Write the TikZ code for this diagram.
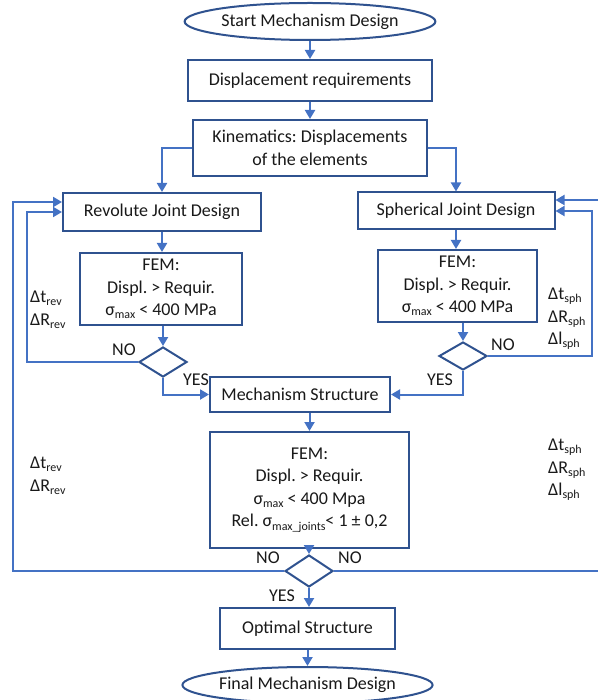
\documentclass[tikz,border=0pt]{standalone}
\usepackage{fontspec}
\setmainfont{Carlito}
\usetikzlibrary{arrows.meta,shapes.geometric}
\definecolor{boxc}{RGB}{47,82,143}
\definecolor{arrc}{RGB}{68,114,196}
\definecolor{txt}{RGB}{25,25,25}
\newcommand{\lo}[1]{\raisebox{-0.35ex}{\fontsize{12}{12}\selectfont #1}}
\frenchspacing
\begin{document}
\begin{tikzpicture}[x=1pt,y=-1pt,
 every node/.style={font=\fontsize{18}{22.5}\selectfont,text=txt},
 box/.style={draw=boxc,line width=2pt,fill=white,rectangle,align=center,inner sep=0pt},
 term/.style={draw=boxc,line width=2pt,fill=white,ellipse,inner sep=0pt},
 dec/.style={draw=boxc,line width=2pt,fill=white,diamond,inner sep=0pt},
 arr/.style={draw=arrc,line width=2pt,-{Triangle[length=9pt,width=10pt]}},
 lab/.style={inner sep=0pt,align=left}]
\useasboundingbox (0,0) rectangle (597,700);
% nodes
\node[term,minimum width=246pt,minimum height=37pt] (start) at (310,21.5) {Start Mechanism Design};
\node[box,minimum width=244pt,minimum height=41pt] (disp) at (310,80.5) {Displacement requirements};
\node[box,minimum width=234pt,minimum height=56pt] (kin) at (310,148) {Kinematics: Displacements\\of the elements};
\node[box,minimum width=198pt,minimum height=38pt] (rev) at (162,212) {Revolute Joint Design};
\node[box,minimum width=197pt,minimum height=37pt] (sph) at (456,211) {Spherical Joint Design};
\node[box,minimum width=162pt,minimum height=72pt] (femR) at (161,289) {FEM:\\Displ. > Requir.\\σ\lo{max} < 400 MPa};
\node[box,minimum width=159pt,minimum height=72pt] (femS) at (457.5,286) {FEM:\\Displ. > Requir.\\σ\lo{max} < 400 MPa};
\node[dec,minimum width=48pt,minimum height=30pt] (dR) at (163,362) {};
\node[dec,minimum width=48pt,minimum height=28pt] (dS) at (463,356) {};
\node[box,minimum width=180pt,minimum height=35pt] (mech) at (300,394.5) {Mechanism Structure};
\node[box,minimum width=199pt,minimum height=116pt] (fem2) at (309.5,490) {FEM:\\Displ. > Requir.\\σ\lo{max} < 400 Mpa\\Rel. σ\lo{max\_joints}< 1 ± 0,2};
\node[dec,minimum width=48pt,minimum height=32pt] (d2) at (309,571) {};
\node[box,minimum width=175pt,minimum height=41pt] (opt) at (307.5,628.5) {Optimal Structure};
\node[term,minimum width=241pt,minimum height=36pt] (final) at (307.5,685) {Final Mechanism Design};
% coordinates for loops
\coordinate (lR) at (27,362);
\coordinate (lO) at (13,571);
\coordinate (rS) at (592,356);
\coordinate (rO) at (602,571);
% connectors
\draw[arr] (start) -- (disp);
\draw[arr] (disp) -- (kin);
\draw[arr] (kin.west) -| (rev.north);
\draw[arr] (kin.east) -| (sph.north);
\draw[arr] (rev.south) -- (rev.south |- femR.north);
\draw[arr] (sph.south) -- (sph.south |- femS.north);
\draw[arr] (dR.north |- femR.south) -- (dR.north);
\draw[arr] (dS.north |- femS.south) -- (dS.north);
\draw[arr] (dR.west) -- (lR) |- (rev.west);
\draw[arr] (dS.east) -- (rS) |- (sph.east);
\draw[arr] (dR.south) |- (mech.west);
\draw[arr] (dS.south) |- (mech.east);
\draw[arr] (mech.south -| fem2.north) -- (fem2.north);
\draw[arr] (fem2.south -| d2.north) -- (d2.north);
\draw[arr] (d2.west) -- (lO) |- ([yshift=10pt]rev.west);
\draw[arr] (d2.east) -- (rO) |- ([yshift=11pt]sph.east);
\draw[arr] (d2.south) -- (d2.south |- opt.north);
\draw[arr] (opt.south -| final.north) -- (final.north);
% labels
\node[lab,anchor=west] (tR1) at (30,310) {Δt\lo{rev}\\ΔR\lo{rev}};
\node[lab,anchor=west] (tS1) at (548,319) {Δt\lo{sph}\\ΔR\lo{sph}\\Δl\lo{sph}};
\node[lab,anchor=west] (tR2) at (30,476) {Δt\lo{rev}\\ΔR\lo{rev}};
\node[lab,anchor=west] (tS2) at (548,470) {Δt\lo{sph}\\ΔR\lo{sph}\\Δl\lo{sph}};
\node[lab] (noR) at (124,350) {NO};
\node[lab] (yesR) at (196,380) {YES};
\node[lab] (noS) at (503,345) {NO};
\node[lab] (yesS) at (440,380) {YES};
\node[lab] (no2a) at (268,558) {NO};
\node[lab] (no2b) at (350,558) {NO};
\node[lab] (yes2) at (282,596) {YES};
\end{tikzpicture}
\end{document}
